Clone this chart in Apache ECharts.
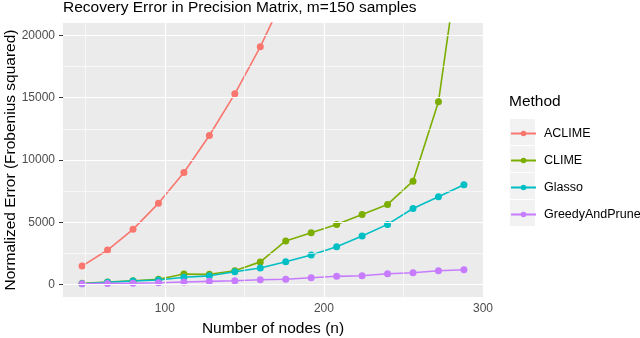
<!DOCTYPE html>
<html>
<head>
<meta charset="utf-8">
<script src="https://cdn.jsdelivr.net/npm/echarts@6/dist/echarts.min.js"></script>
<style>
  html, body { margin: 0; padding: 0; background: #fff; }
  #chart { width: 640px; height: 338px; }
</style>
</head>
<body>
<div id="chart"></div>
<script>
// 数据
var nodes = [48, 64, 80, 96, 112, 128, 144, 160, 176, 192, 208, 224, 240, 256, 272, 288];
var methods = ['ACLIME', 'CLIME', 'Glasso', 'GreedyAndPrune'];
var colors = ['#F8766D', '#7CAE00', '#00BFC4', '#C77CFF'];
var aclime = [1480, 2770, 4430, 6520, 9000, 11970, 15310, 19090, 23400];
var clime = [100, 200, 300, 420, 840, 820, 1110, 1820, 3500, 4150, 4830, 5630, 6430, 8300, 14670, 29100];
var glasso = [60, 180, 280, 360, 580, 700, 1030, 1330, 1830, 2380, 3040, 3890, 4830, 6110, 7050, 8010];
var greedy = [60, 90, 110, 150, 200, 255, 305, 385, 420, 550, 660, 710, 870, 950, 1110, 1190];
var values = [aclime, clime, glasso, greedy];

// 刻度 / 网格线
var xTicks = [100, 200, 300];
var xMinor = [50, 150, 250];
var yTicks = [0, 5000, 10000, 15000, 20000];
var yMinor = [2500, 7500, 12500, 17500];

var font = 'Liberation Sans, Arial, sans-serif';

var seriesArray = [];
// 网格线（用 markLine 画，避免 interval 从 min 开始计数的问题）
var gridLines = [];
xMinor.forEach(function (v) { gridLines.push({ xAxis: v, lineStyle: { width: 0.6 } }); });
yMinor.forEach(function (v) { gridLines.push({ yAxis: v, lineStyle: { width: 0.6 } }); });
xTicks.forEach(function (v) { gridLines.push({ xAxis: v, lineStyle: { width: 1.2 } }); });
yTicks.forEach(function (v) { gridLines.push({ yAxis: v, lineStyle: { width: 1.2 } }); });
seriesArray.push({
    type: 'line',
    data: [],
    z: 1,
    silent: true,
    markLine: {
        silent: true,
        symbol: 'none',
        animation: false,
        label: { show: false },
        lineStyle: { color: '#ffffff', type: 'solid' },
        data: gridLines
    }
});

for (var i = 0; i < methods.length; i++) {
    var pts = [];
    for (var j = 0; j < values[i].length; j++) {
        pts.push([nodes[j], values[i][j]]);
    }
    seriesArray.push({
        name: methods[i],
        type: 'line',
        data: pts,
        z: 3,
        symbol: 'circle',
        symbolSize: 7,
        showSymbol: true,
        clip: true,
        itemStyle: { color: colors[i] },
        lineStyle: { color: colors[i], width: 1.6 },
        animation: false
    });
}

// key 背景
var keyBg = [];
for (var k = 0; k < methods.length; k++) {
    keyBg.push({
        type: 'rect',
        left: 510,
        top: 119 + k * 27,
        shape: { width: 25, height: 26 },
        style: { fill: '#F2F2F2' },
        z: 0
    });
}

var myChart = echarts.init(document.getElementById('chart'), null, { renderer: 'canvas' });
var option = {
    animation: false,
    color: colors,
    title: [{
        text: 'Recovery Error in Precision Matrix, m=150 samples',
        left: 63,
        top: 0,
        padding: 0,
        textStyle: { fontFamily: font, fontSize: 15.5, fontWeight: 'normal', color: '#000' }
    }, {
        text: 'Method',
        left: 509,
        top: 94,
        padding: 0,
        textStyle: { fontFamily: font, fontSize: 15.5, fontWeight: 'normal', color: '#000' }
    }],
    graphic: keyBg,
    legend: {
        data: methods,
        orient: 'vertical',
        left: 510,
        top: 127,
        padding: 0,
        itemWidth: 25,
        itemHeight: 7,
        itemGap: 14,
        selectedMode: false,
        textStyle: { fontFamily: font, fontSize: 12.5, color: '#000', padding: [0, 0, 0, 3] }
    },
    grid: {
        left: 63,
        right: 157,
        top: 23,
        bottom: 41,
        outerBoundsMode: 'none',
        containLabel: false,
        show: true,
        backgroundColor: '#EBEBEB',
        borderWidth: 0
    },
    xAxis: {
        type: 'value',
        min: 36,
        max: 300,
        name: 'Number of nodes (n)',
        nameLocation: 'middle',
        nameGap: 24,
        nameMoveOverlap: false,
        nameTextStyle: { fontFamily: font, fontSize: 15.5, color: '#000' },
        axisLine: { show: false },
        axisTick: { show: true, length: 4, customValues: xTicks, lineStyle: { color: '#333333' } },
        axisLabel: { customValues: xTicks, margin: 6, fontFamily: font, fontSize: 12, color: '#4D4D4D' },
        splitLine: { show: false }
    },
    yAxis: {
        type: 'value',
        min: -1000,
        max: 21000,
        name: 'Normalized Error (Frobenius squared)',
        nameLocation: 'middle',
        nameGap: 44,
        nameMoveOverlap: false,
        nameTextStyle: { fontFamily: font, fontSize: 15.5, color: '#000' },
        axisLine: { show: false },
        axisTick: { show: true, length: 4, customValues: yTicks, lineStyle: { color: '#333333' } },
        axisLabel: {
            customValues: yTicks, margin: 8, fontFamily: font, fontSize: 12, color: '#4D4D4D',
            formatter: function (v) { return String(v); }
        },
        splitLine: { show: false }
    },
    series: seriesArray
};
myChart.setOption(option);
</script>
</body>
</html>
